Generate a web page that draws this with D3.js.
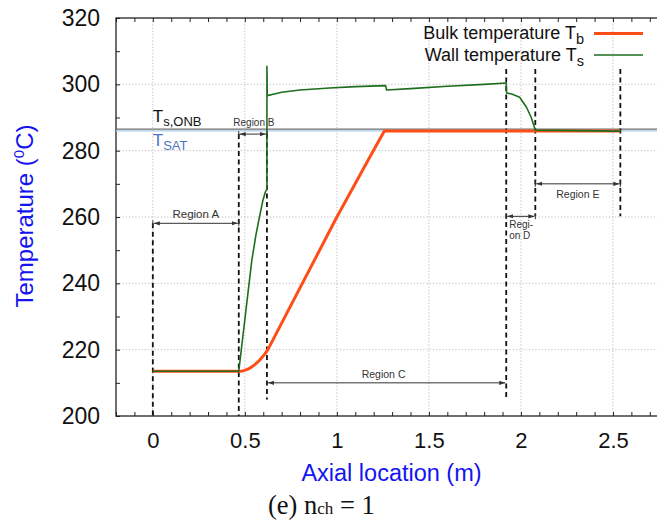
<!DOCTYPE html>
<html>
<head>
<meta charset="utf-8">
<script src="https://cdn.jsdelivr.net/npm/d3@7"></script>
<style>
  html, body { margin: 0; padding: 0; background: #fff; }
  svg text { font-family: "Liberation Sans", Arial, Helvetica, sans-serif; }
</style>
</head>
<body>
<svg id="chart" width="657" height="522"></svg>
<script>
// Axial positions (m) and temperatures (°C) along the heated channel
const bulkX = [0, 0.467, 0.49, 0.52, 0.55, 0.58, 0.61, 0.625, 1.0, 1.2, 1.258, 2.54];
const bulkT = [213.5, 213.5, 213.6, 214.2, 215.3, 216.8, 218.8, 220.0, 260.0, 280.2, 285.9, 285.9];

const wallX = [0, 0.467, 0.538, 0.56, 0.58, 0.598, 0.61, 0.618, 0.62, 0.62, 0.622, 0.66, 0.70, 0.80, 0.96, 1.10, 1.265, 1.27,
               1.40, 1.60, 1.80, 1.92, 1.922, 1.95, 1.993, 2.03, 2.056, 2.078, 2.54];
const wallT = [213.5, 213.5, 247.0, 254.5, 260.2, 265.0, 267.3, 268.3, 268.5, 305.4, 296.6, 297.1, 297.6, 298.3, 298.9, 299.3, 299.6, 298.3,
               298.7, 299.4, 300.0, 300.4, 297.4, 297.1, 296.1, 293.1, 290.0, 286.2, 285.9];

// Reference temperatures
const tOnb = 286.5;
const tSat = 285.95;

// Heat-transfer regions: name, start/end (m), level of the span arrow (°C)
const regionNames = ["Region A", "Region B", "Region C", "Regi-|on D", "Region E"];
const regionStart = [0, 0.467, 0.62, 1.92, 2.078];
const regionEnd   = [0.467, 0.62, 1.92, 2.078, 2.54];
const regionLevel = [258.1, 285.0, 210.0, 260.2, 270.0];

// Region boundary markers: position (m), top and bottom (°C)
const markerX   = [0, 0.467, 0.62, 1.92, 2.078, 2.54];
const markerTop = [258.1, 285.0, 285.0, 304.6, 304.6, 304.6];
const markerBot = [200, 200, 205.0, 204.7, 260.2, 260.2];

// Axis ticks
const xTicks = [0, 0.5, 1, 1.5, 2, 2.5];
const yTicks = [200, 220, 240, 260, 280, 300, 320];

const svg = d3.select("#chart");
const W = 657, H = 522;
const pL = 116, pR = 659, pT = 18, pB = 416;

const x = d3.scaleLinear().domain([-0.2, 2.75]).range([pL, pR]);
const y = d3.scaleLinear().domain([200, 320]).range([pB, pT]);

svg.append("rect").attr("width", W).attr("height", H).attr("fill", "#fff");

const defs = svg.append("defs");
defs.append("clipPath").attr("id", "plotclip")
  .append("rect").attr("x", pL).attr("y", pT).attr("width", pR - pL).attr("height", pB - pT);
defs.append("marker").attr("id", "ahead").attr("viewBox", "0 0 10 10")
  .attr("refX", 10).attr("refY", 5).attr("markerWidth", 6).attr("markerHeight", 6)
  .attr("markerUnits", "userSpaceOnUse").attr("orient", "auto-start-reverse")
  .append("path").attr("d", "M0,1.5 L10,5 L0,8.5 Z").attr("fill", "#333");

// Grid
const grid = svg.append("g").attr("stroke", "#bdbdbd").attr("stroke-width", 1).attr("stroke-dasharray", "1.2,2");
grid.selectAll(".gx").data(xTicks).join("line")
  .attr("x1", d => x(d)).attr("x2", d => x(d)).attr("y1", pT).attr("y2", pB);
grid.selectAll(".gy").data(yTicks.slice(1, -1)).join("line")
  .attr("x1", pL).attr("x2", pR).attr("y1", d => y(d)).attr("y2", d => y(d));

// Minor/major ticks (inward) on bottom, top and left
const xMinor = d3.range(-0.2, 2.751, 0.1).map(v => +v.toFixed(2));
const yMinor = d3.range(200, 321, 10);
function styleAxis(g) {
  g.select(".domain").remove();
  g.selectAll(".tick line").attr("stroke", "#222").attr("stroke-width", 1);
}
svg.append("g").attr("transform", `translate(0,${pB})`)
  .call(d3.axisBottom(x).tickValues(xMinor).tickSize(-4).tickFormat(""))
  .call(styleAxis);
svg.append("g").attr("transform", `translate(0,${pT})`)
  .call(d3.axisTop(x).tickValues(xMinor).tickSize(-4).tickFormat(""))
  .call(styleAxis);
svg.append("g").attr("transform", `translate(${pL},0)`)
  .call(d3.axisLeft(y).tickValues(yMinor).tickSize(-4).tickFormat(""))
  .call(styleAxis);

// Tick labels
const xAx = svg.append("g").attr("transform", `translate(0,${pB})`)
  .call(d3.axisBottom(x).tickValues(xTicks).tickSize(0).tickPadding(16).tickFormat(d3.format("")))
  .call(g => g.select(".domain").remove());
xAx.selectAll("text").attr("font-size", 22).attr("fill", "#111")
  .style("font-family", "'Liberation Sans', Arial, sans-serif");
const yAx = svg.append("g").attr("transform", `translate(${pL},0)`)
  .call(d3.axisLeft(y).tickValues(yTicks).tickSize(0).tickPadding(16).tickFormat(d3.format("")))
  .call(g => g.select(".domain").remove());
yAx.selectAll("text").attr("font-size", 23).attr("fill", "#111")
  .style("font-family", "'Liberation Sans', Arial, sans-serif");

// Frame
svg.append("rect").attr("x", pL).attr("y", pT).attr("width", pR - pL).attr("height", pB - pT)
  .attr("fill", "none").attr("stroke", "#222").attr("stroke-width", 1.3);

const plot = svg.append("g").attr("clip-path", "url(#plotclip)");

// Reference lines
plot.append("line").attr("x1", pL).attr("x2", pR).attr("y1", y(tSat)).attr("y2", y(tSat))
  .attr("stroke", "#a9cbe8").attr("stroke-width", 1.2);
plot.append("line").attr("x1", pL).attr("x2", pR).attr("y1", y(tOnb)).attr("y2", y(tOnb))
  .attr("stroke", "#6e6e6e").attr("stroke-width", 1.2);

// Region boundary markers
plot.selectAll(".marker").data(markerX).join("line")
  .attr("x1", d => x(d)).attr("x2", d => x(d))
  .attr("y1", (d, i) => y(markerTop[i])).attr("y2", (d, i) => y(markerBot[i]))
  .attr("stroke", "#111").attr("stroke-width", 1.8).attr("stroke-dasharray", "5,3.5");

// Temperature curves
const line = d3.line().x(d => x(d[0])).y(d => y(d[1]));
plot.append("path").datum(bulkX.map((v, i) => [v, bulkT[i]]))
  .attr("d", line).attr("fill", "none").attr("stroke", "#ff4d17").attr("stroke-width", 3)
  .attr("stroke-linejoin", "round");
plot.append("path").datum(wallX.map((v, i) => [v, wallT[i]]))
  .attr("d", line).attr("fill", "none").attr("stroke", "#1d6e1d").attr("stroke-width", 1.6)
  .attr("stroke-linejoin", "round");

// Region span arrows and labels
const spans = svg.append("g");
regionNames.forEach((name, i) => {
  const x0 = x(regionStart[i]), x1 = x(regionEnd[i]), yy = y(regionLevel[i]);
  spans.append("line").attr("x1", x0 + 1).attr("x2", x1 - 1).attr("y1", yy).attr("y2", yy)
    .attr("stroke", "#333").attr("stroke-width", 1)
    .attr("marker-start", "url(#ahead)").attr("marker-end", "url(#ahead)");
  if (i !== 2) {
    [x0, x1].forEach(xx => spans.append("line").attr("x1", xx).attr("x2", xx)
      .attr("y1", yy - 3).attr("y2", yy + 3).attr("stroke", "#333").attr("stroke-width", 1));
  }
});
const lab = (txt, xx, yy, size, anchor) => spans.append("text").attr("x", xx).attr("y", yy)
  .attr("font-size", size).attr("fill", "#333").attr("text-anchor", anchor || "middle").text(txt);
lab(regionNames[0], (x(regionStart[0]) + x(regionEnd[0])) / 2, y(regionLevel[0]) - 5, 11.5);
lab(regionNames[1], (x(regionStart[1]) + x(regionEnd[1])) / 2 + 1, y(regionLevel[1]) - 8, 10);
lab(regionNames[2], (x(regionStart[2]) + x(regionEnd[2])) / 2 - 3, y(regionLevel[2]) - 5, 10.5);
const dParts = regionNames[3].split("|");
lab(dParts[0], x(regionStart[3]) + 3, y(regionLevel[3]) + 12, 10, "start");
lab(dParts[1], x(regionStart[3]) + 3, y(regionLevel[3]) + 23, 10, "start");
lab(regionNames[4], (x(regionStart[4]) + x(regionEnd[4])) / 2, y(regionLevel[4]) + 14, 10.5);

// Reference line labels
const onb = svg.append("text").attr("x", x(0)).attr("y", 122).attr("font-size", 17).attr("fill", "#111");
onb.append("tspan").text("T");
onb.append("tspan").attr("font-size", 13).attr("dy", 4).text("s,ONB");
const sat = svg.append("text").attr("x", x(0)).attr("y", 146).attr("font-size", 17).attr("fill", "#4a74c4");
sat.append("tspan").text("T");
sat.append("tspan").attr("font-size", 13).attr("dy", 4).text("SAT");

// Legend
const legendNames = ["Bulk temperature T", "Wall temperature T"];
const legendSubs = ["b", "s"];
const legendColors = ["#ff4d17", "#1d6e1d"];
const legendWidths = [3, 1.6];
legendNames.forEach((n, i) => {
  const by = 39 + i * 21.5;
  const t = svg.append("text").attr("x", 584).attr("y", by).attr("text-anchor", "end")
    .attr("font-size", 18).attr("fill", "#111");
  t.append("tspan").text(n);
  t.append("tspan").attr("font-size", 14.5).attr("dy", 5).text(legendSubs[i]);
  svg.append("line").attr("x1", 594).attr("x2", 643).attr("y1", by - 5.5).attr("y2", by - 5.5)
    .attr("stroke", legendColors[i]).attr("stroke-width", legendWidths[i]);
});

// Axis titles
svg.append("text").attr("x", (pL + 657) / 2 + 5).attr("y", 481).attr("text-anchor", "middle")
  .attr("font-size", 23.5).attr("fill", "#1414f0").text("Axial location (m)");
const yt = svg.append("text").attr("transform", "translate(33,216) rotate(-90)").attr("text-anchor", "middle")
  .attr("font-size", 24).attr("fill", "#1414f0");
yt.append("tspan").text("Temperature (");
yt.append("tspan").attr("font-size", 15).attr("dy", -9).text("0");
yt.append("tspan").attr("dy", 9).text("C)");

// Caption
const cap = svg.append("text").attr("x", 268).attr("y", 514).attr("font-size", 26.5).attr("fill", "#111")
  .style("font-family", "'Liberation Serif', 'Times New Roman', serif");
cap.append("tspan").text("(e) n");
cap.append("tspan").attr("font-size", 17).text("ch");
cap.append("tspan").text(" = 1");
</script>
</body>
</html>
